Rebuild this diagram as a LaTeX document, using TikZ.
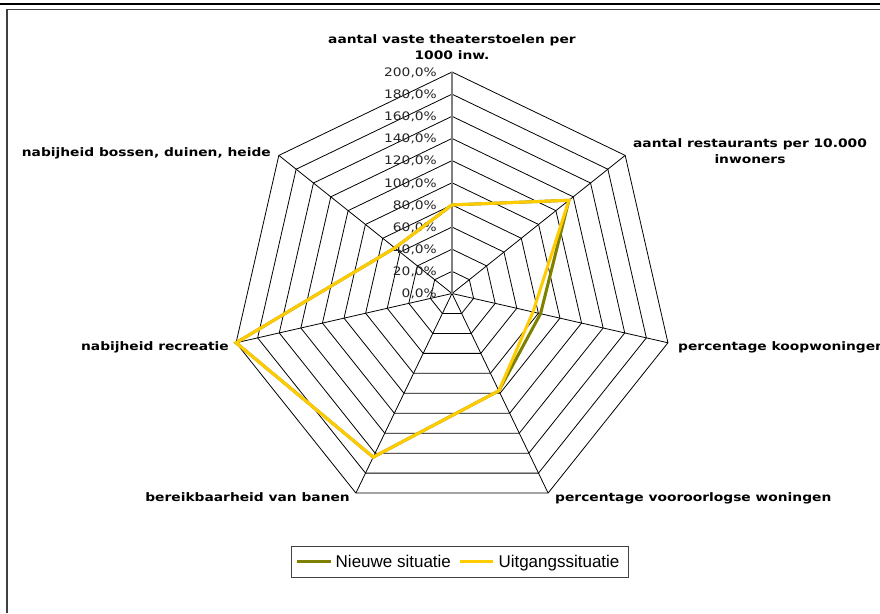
\documentclass[tikz,border=0pt]{standalone}
\usepackage{fontspec}
\setmainfont{DejaVu Sans}
\newfontfamily\chartfont[FakeStretch=1.18]{DejaVu Sans}
\newfontfamily\legendfont{Liberation Sans}
\definecolor{nieuw}{HTML}{808000}
\definecolor{uitgang}{HTML}{FFCC00}
\definecolor{framegray}{HTML}{404040}
\begin{document}
\begin{tikzpicture}[x=1pt,y=-1pt,
  ring/.style={black, line width=0.8pt},
  spoke/.style={black, line width=0.8pt},
  valueaxis/.style={gray, line width=1.6pt},
  axislabel/.style={font=\chartfont\fontsize{11.7}{14}\selectfont\bfseries, inner sep=0pt},
  ticklabel/.style={font=\chartfont\fontsize{11.7}{14}\selectfont, inner sep=0pt, anchor=base east, text=black!85},
  series/.style={line width=3pt, line join=miter},
  legendtext/.style={font=\legendfont\fontsize{17}{19}\selectfont, inner sep=0pt, anchor=base west}]

\useasboundingbox (0,0) rectangle (880,613);
\fill[white] (0,0) rectangle (880,613);

% page rule and chart frame
\draw[black, line width=1.5pt] (0,4) -- (880,4);
\draw[framegray, line width=1pt] (6,9.8) -- (880,9.8);
\draw[framegray, line width=2pt] (7,9.8) -- (7,613);

% radar geometry
\def\cx{452}
\def\cy{293.5}
\def\R{221.5}
\coordinate (c) at (\cx,\cy);
\foreach \k in {0,...,6}
  \coordinate (v\k) at ({\cx+\R*sin(\k*360/7)},{\cy-\R*cos(\k*360/7)});

% concentric heptagons, one per 20%
\foreach \i in {1,...,10}{
  \pgfmathsetmacro\rr{\R*\i/10}
  \draw[ring] ({\cx},{\cy-\rr})
    \foreach \k in {1,...,6}{ -- ({\cx+\rr*sin(\k*360/7)},{\cy-\rr*cos(\k*360/7)}) } -- cycle;
}

% spokes
\foreach \k in {1,...,6}
  \draw[spoke] (c) -- (v\k);
\draw[valueaxis] (c) -- (v0);

% value scale
\foreach \i in {0,...,10}
  \node[ticklabel] (t\i) at (437,{\cy-\R*\i/10+4.3}) {\the\numexpr\i*20\relax,0\%};

% category labels
\node[axislabel, anchor=base] (l0a) at (452,43) {aantal vaste theaterstoelen per};
\node[axislabel, anchor=base] (l0b) at (452,59) {1000 inw.};
\node[axislabel, anchor=base] (l1a) at (750,147) {aantal restaurants per 10.000};
\node[axislabel, anchor=base] (l1b) at (750,163.5) {inwoners};
\node[axislabel, anchor=base west] (l2) at (678,350) {percentage koopwoningen};
\node[axislabel, anchor=base west] (l3) at (555,501.5) {percentage vooroorlogse woningen};
\node[axislabel, anchor=base east] (l4) at (350,501.5) {bereikbaarheid van banen};
\node[axislabel, anchor=base east] (l5) at (229,350.5) {nabijheid recreatie};
\node[axislabel, anchor=base west] (l6) at (21.7,156.7) {nabijheid bossen, duinen, heide};

% data series (percentages per axis, clockwise from the top)
\foreach \v [count=\k from 0] in {80,135,82,97.5,164,200,66}
  \coordinate (n\k) at ({\cx+\R/200*\v*sin(\k*360/7)},{\cy-\R/200*\v*cos(\k*360/7)});
\foreach \v [count=\k from 0] in {80,135,75,97.5,164,200,66}
  \coordinate (u\k) at ({\cx+\R/200*\v*sin(\k*360/7)},{\cy-\R/200*\v*cos(\k*360/7)});

\draw[series, nieuw] (n0) -- (n1) -- (n2) -- (n3) -- (n4) -- (n5) -- (n6) -- cycle;
\draw[series, uitgang] (u0) -- (u1) -- (u2) -- (u3) -- (u4) -- (u5) -- (u6) -- cycle;

% legend
\draw[framegray, line width=0.9pt] (291.5,546) rectangle (628,577);
\coordinate (g1) at (297,561.5);
\coordinate (g2) at (331,561.5);
\coordinate (y1) at (460,561.5);
\coordinate (y2) at (493,561.5);
\draw[nieuw, line width=3pt] (g1) -- (g2);
\node[legendtext] (ln) at (335.5,567.3) {Nieuwe situatie};
\draw[uitgang, line width=3pt] (y1) -- (y2);
\node[legendtext] (lu) at (498.3,567.3) {Uitgangssituatie};
\end{tikzpicture}
\end{document}
